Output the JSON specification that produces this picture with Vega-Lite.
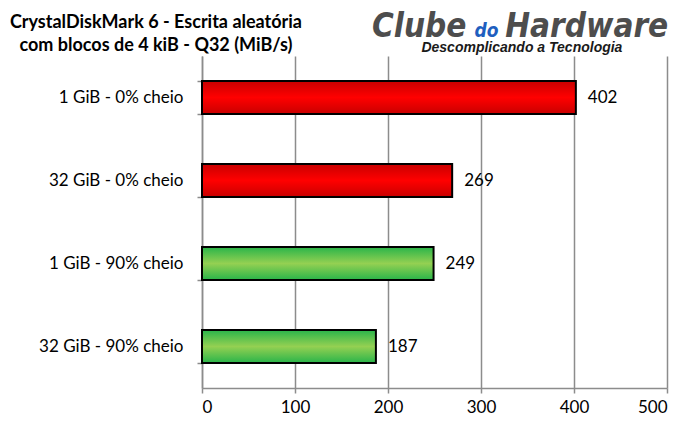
{
  "$schema": "https://vega.github.io/schema/vega-lite/v6.json",
  "width": 465,
  "height": 332,
  "autosize": "none",
  "padding": {"left": 202, "top": 56, "right": 22, "bottom": 40},
  "background": "white",
  "config": {
    "view": {"stroke": null},
    "font": "Lato"
  },
  "data": {
    "values": [
      {"config": "1 GiB - 0% cheio", "cheio": "0%", "valor": 402},
      {"config": "32 GiB - 0% cheio", "cheio": "0%", "valor": 269},
      {"config": "1 GiB - 90% cheio", "cheio": "90%", "valor": 249},
      {"config": "32 GiB - 90% cheio", "cheio": "90%", "valor": 187}
    ]
  },
  "encoding": {
    "y": {
      "field": "config",
      "type": "nominal",
      "sort": null,
      "title": null,
      "scale": {"paddingInner": 0.6, "paddingOuter": 0.3},
      "axis": {
        "labelFont": "Lato",
        "labelFontSize": 17,
        "labelColor": "#000000",
        "labelPadding": 14,
        "tickBand": "extent",
        "tickSize": 5,
        "tickColor": "#8c8c8c",
        "tickWidth": 1.5,
        "domainColor": "#8c8c8c",
        "domainWidth": 1.5,
        "grid": false
      }
    },
    "x": {
      "field": "valor",
      "type": "quantitative",
      "title": null,
      "scale": {"domain": [0, 500], "nice": false},
      "axis": {
        "values": [0, 100, 200, 300, 400, 500],
        "labelFont": "Lato",
        "labelFontSize": 17,
        "labelColor": "#000000",
        "labelPadding": 6,
        "tickSize": 5,
        "tickColor": "#8c8c8c",
        "tickWidth": 1.5,
        "domainColor": "#8c8c8c",
        "domainWidth": 1.5,
        "grid": true,
        "gridColor": "#8c8c8c",
        "gridWidth": 1.5
      }
    }
  },
  "layer": [
    {
      "mark": {"type": "bar", "stroke": "#000000", "strokeWidth": 2},
      "encoding": {
        "fill": {
          "condition": {
            "test": "datum.cheio === '0%'",
            "value": {
              "gradient": "linear", "x1": 0, "y1": 0, "x2": 0, "y2": 1,
              "stops": [
                {"offset": 0, "color": "#c80000"},
                {"offset": 0.5, "color": "#ff0000"},
                {"offset": 1, "color": "#c80000"}
              ]
            }
          },
          "value": {
            "gradient": "linear", "x1": 0, "y1": 0, "x2": 0, "y2": 1,
            "stops": [
              {"offset": 0, "color": "#28b44a"},
              {"offset": 0.5, "color": "#94d052"},
              {"offset": 1, "color": "#28b44a"}
            ]
          }
        }
      }
    },
    {
      "mark": {"type": "text", "align": "left", "baseline": "middle", "dx": 12, "font": "Lato", "fontSize": 17, "color": "#000000"},
      "encoding": {"text": {"field": "valor", "type": "quantitative"}}
    },
    {
      "transform": [{"filter": "datum.valor === 402"}],
      "mark": {"type": "text", "text": ["CrystalDiskMark 6 - Escrita aleatória", "com blocos de 4 kiB - Q32 (MiB/s)"], "align": "center", "baseline": "alphabetic", "dy": -70, "lineHeight": 23, "font": "Lato", "fontSize": 18, "fontWeight": "bold", "color": "#000000"},
      "encoding": {"x": {"datum": -49.5}, "text": null}
    },
    {
      "transform": [{"filter": "datum.valor === 402"}],
      "mark": {"type": "text", "text": "Clube", "align": "left", "baseline": "alphabetic", "dy": -60.5, "font": "DejaVu Sans Condensed, DejaVu Sans", "fontSize": 33, "fontWeight": "bold", "fontStyle": "italic", "color": "#4d4d4d"},
      "encoding": {"x": {"datum": 182.8}, "text": null}
    },
    {
      "transform": [{"filter": "datum.valor === 402"}],
      "mark": {"type": "text", "text": "do", "align": "center", "baseline": "alphabetic", "dy": -61, "font": "DejaVu Sans Condensed, DejaVu Sans", "fontSize": 19, "fontWeight": "bold", "fontStyle": "italic", "color": "#1f5fbf"},
      "encoding": {"x": {"datum": 306}, "text": null}
    },
    {
      "transform": [{"filter": "datum.valor === 402"}],
      "mark": {"type": "text", "text": "Hardware", "align": "left", "baseline": "alphabetic", "dy": -60.5, "font": "DejaVu Sans Condensed, DejaVu Sans", "fontSize": 33, "fontWeight": "bold", "fontStyle": "italic", "color": "#4d4d4d"},
      "encoding": {"x": {"datum": 326}, "text": null}
    },
    {
      "transform": [{"filter": "datum.valor === 402"}],
      "mark": {"type": "text", "text": "Descomplicando a Tecnologia", "align": "center", "baseline": "alphabetic", "dy": -46, "font": "Liberation Sans, Roboto", "fontSize": 14, "fontWeight": "bold", "fontStyle": "italic", "color": "#1a1a1a"},
      "encoding": {"x": {"datum": 344}, "text": null}
    }
  ]
}
